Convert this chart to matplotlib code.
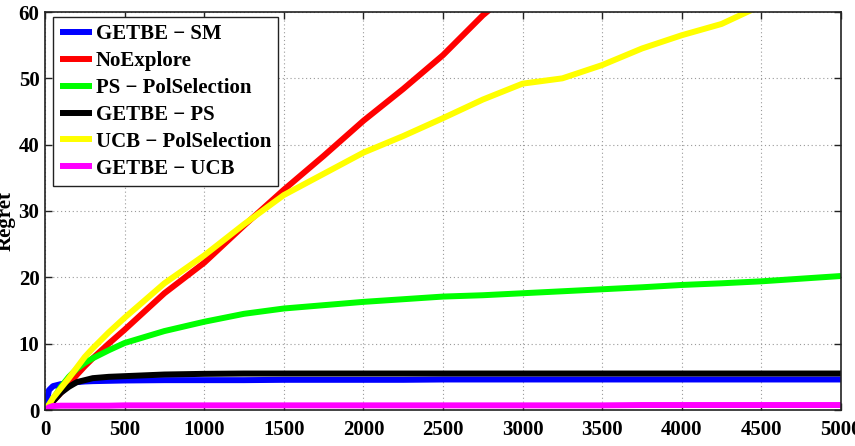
import numpy as np
import matplotlib
matplotlib.use("Agg")
import matplotlib.pyplot as plt

# shared time steps
steps = [0, 25, 50, 100, 150, 200, 250, 300, 400, 500, 750, 1000, 1250, 1500,
         1750, 2000, 2250, 2500, 2750, 3000, 3250, 3500, 3750, 4000, 4250,
         4500, 4750, 5000]

getbe_sm = [0, 3.0, 3.6, 3.9, 4.05, 4.2, 4.3, 4.35, 4.4, 4.45, 4.5, 4.5, 4.5,
            4.55, 4.55, 4.55, 4.55, 4.6, 4.6, 4.6, 4.6, 4.6, 4.6, 4.6, 4.6,
            4.6, 4.6, 4.6]
no_explore = [0, 0.6, 1.3, 2.6, 3.9, 5.3, 6.6, 7.8, 10.0, 12.1, 17.6, 22.2,
              27.8, 33.2, 38.3, 43.6, 48.4, 53.5, 59.5, 64.5]
ps_polsel = [0, 0.8, 1.6, 3.5, 5.0, 6.2, 7.1, 7.8, 9.0, 10.1, 11.9, 13.3,
             14.5, 15.3, 15.8, 16.3, 16.7, 17.1, 17.3, 17.6, 17.9, 18.2,
             18.5, 18.85, 19.1, 19.4, 19.8, 20.2]
getbe_ps = [0, 0.6, 1.3, 2.6, 3.5, 4.2, 4.5, 4.8, 5.0, 5.1, 5.35, 5.45, 5.5,
            5.5, 5.5, 5.5, 5.5, 5.5, 5.5, 5.5, 5.5, 5.5, 5.5, 5.5, 5.5, 5.5,
            5.5, 5.5]
ucb_polsel = [0, 0.8, 1.8, 3.3, 4.8, 6.4, 8.0, 9.3, 11.7, 13.9, 19.1, 23.3,
              28.0, 32.4, 35.6, 38.8, 41.3, 44.0, 46.8, 49.2, 50.0, 52.0,
              54.5, 56.5, 58.2, 61.0, 63.0]
getbe_ucb = [0, 0.4, 0.6, 0.65, 0.65, 0.65, 0.65, 0.65, 0.65, 0.7, 0.7, 0.7,
             0.7, 0.7, 0.7, 0.7, 0.7, 0.7, 0.7, 0.7, 0.7, 0.7, 0.75, 0.75,
             0.75, 0.75, 0.75, 0.75]

labels = ["GETBE \u2212 SM", "NoExplore", "PS \u2212 PolSelection",
          "GETBE \u2212 PS", "UCB \u2212 PolSelection", "GETBE \u2212 UCB"]
colors = ["#0000ff", "#ff0000", "#00ff00", "#000000", "#ffff00", "#ff00ff"]
series = [getbe_sm, no_explore, ps_polsel, getbe_ps, ucb_polsel, getbe_ucb]

plt.rcParams['font.family'] = ['Liberation Serif', 'DejaVu Serif']
plt.rcParams['font.weight'] = 'bold'

fig = plt.figure(figsize=(8.55, 4.46), dpi=100)
ax = fig.add_axes([45/855, 1-410/446, 796/855, 398/446])

for vals, c, lab in zip(series, colors, labels):
    ax.plot(steps[:len(vals)], vals, color=c, lw=4.3, label=lab,
            solid_capstyle='butt')

ax.set_xlim(0, 5000)
ax.set_ylim(0, 60)
ax.set_xticks(np.arange(0, 5001, 500))
ax.set_yticks(np.arange(0, 61, 10))
ax.grid(True, color='#9a9a9a', linestyle=(0, (1, 2.5)), linewidth=0.8)
ax.tick_params(direction='in', length=5, width=1, top=True, right=True,
               labelsize=15, colors='#222222', labelcolor='black')
ax.tick_params(axis='x', pad=7)
ax.tick_params(axis='y', pad=4)
for lab in ax.get_xticklabels() + ax.get_yticklabels():
    lab.set_fontweight('bold')
for s in ax.spines.values():
    s.set_linewidth(1.2)
    s.set_color('#222222')

fig.text(6/855, 0.5 + 2/446, "Regret", rotation=90, ha='center', va='center',
         fontsize=15, fontweight='bold')

leg = ax.legend(loc='upper left', bbox_to_anchor=(8/796, 1-5/398),
                fontsize=15, handlelength=1.5, handletextpad=0.2,
                labelspacing=0.33, borderpad=0.35, borderaxespad=0,
                fancybox=False, framealpha=1, edgecolor='#222222')
leg.get_frame().set_linewidth(1.0)
for t in leg.get_texts():
    t.set_fontweight('bold')

fig.savefig("out.png", dpi=100)
